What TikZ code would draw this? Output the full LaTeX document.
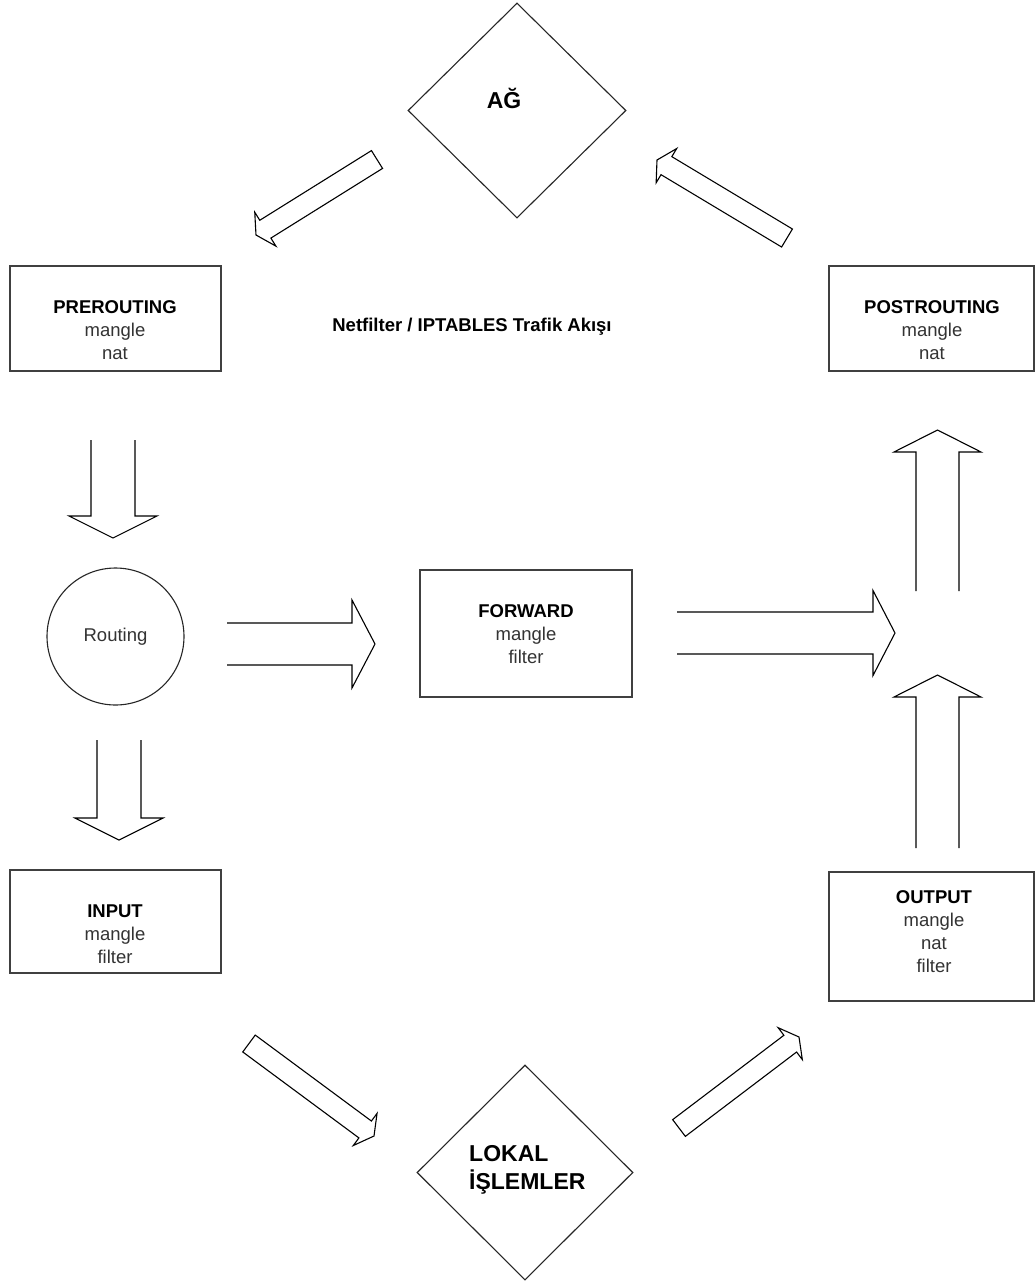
\documentclass[tikz,border=0pt]{standalone}
\usepackage{fontspec}
\setmainfont{Liberation Sans}
\usetikzlibrary{calc,shapes.geometric}

% Outline of a block arrow: tail, tip, shaft half-width, head half-width
% (the head base must be stored in coordinate hb first)
\newcommand\arrowoutline[4]{%
  ($(#1)!#3!-90:(#2)$) -- ($(hb)!#3!-90:(#2)$) -- ($(hb)!#4!-90:(#2)$) -- (#2)
  -- ($(hb)!#4!90:(#2)$) -- ($(hb)!#3!90:(#2)$) -- ($(#1)!#3!90:(#2)$)}
% block arrow left open at its tail: tail, tip, shaft half-width, head half-width, head length
\newcommand\openarrow[5]{%
  \coordinate (hb) at ($(#2)!#5!(#1)$);
  \path[barrow] \arrowoutline{#1}{#2}{#3}{#4};}
% thin block arrow with a closed tail
\newcommand\closedarrow[2]{%
  \coordinate (hb) at ($(#2)!11pt!(#1)$);
  \path[barrow] \arrowoutline{#1}{#2}{10.5pt}{20pt} -- cycle;}

\begin{document}
\begin{tikzpicture}[x=1pt,y=-1pt,
  box/.style={draw=black!75, line width=1.4pt, inner sep=0pt},
  diam/.style={diamond, draw=black!85, line width=1.1pt, inner sep=0pt, aspect=1},
  barrow/.style={draw=black, line width=1.1pt, line join=miter},
  lbl/.style={align=center, inner sep=0pt, text=black!80,
              font=\fontsize{18.5}{23}\selectfont},
  big/.style={inner sep=0pt, font=\fontsize{23}{28}\selectfont\bfseries},
]
\useasboundingbox (0,0) rectangle (1036,1283);
\fill[white] (0,0) rectangle (1036,1283);

% network and local processes
\node[diam, minimum width=218pt, minimum height=215pt] (ag) at (517,110.5) {};
\node[big, anchor=base] (agtxt) at (504,108) {AĞ};
\node[diam, minimum width=216pt, minimum height=215pt] (lokal) at (525,1172.5) {};
\node[big, anchor=west, align=left] (lokaltxt) at (469,1170) {LOKAL\\İŞLEMLER};

% chains
\node[box, minimum width=211pt, minimum height=105pt] (pre) at (115.5,318.5) {};
\node[lbl, anchor=north] (pretxt) at (115,300.4) {\textcolor{black}{\bfseries PREROUTING}\\mangle\\nat};
\node[box, minimum width=205pt, minimum height=105pt] (post) at (931.5,318.5) {};
\node[lbl, anchor=north] (posttxt) at (932,300.4) {\textcolor{black}{\bfseries POSTROUTING}\\mangle\\nat};
\node[box, minimum width=212pt, minimum height=127pt] (fwd) at (526,633.5) {};
\node[lbl, anchor=north] (fwdtxt) at (526,604.4) {\textcolor{black}{\bfseries FORWARD}\\mangle\\filter};
\node[box, minimum width=211pt, minimum height=103pt] (input) at (115.5,921.5) {};
\node[lbl, anchor=north] (inputtxt) at (115,904.4) {\textcolor{black}{\bfseries INPUT}\\mangle\\filter};
\node[box, minimum width=205pt, minimum height=129pt] (output) at (931.5,936.5) {};
\node[lbl, anchor=north] (outputtxt) at (934,890.4) {\textcolor{black}{\bfseries OUTPUT}\\mangle\\nat\\filter};

\node[circle, draw=black!85, line width=1.1pt, minimum size=137pt, inner sep=0pt,
      text=black!80, font=\fontsize{18.5}{23}\selectfont] (routing) at (115.5,636.5) {Routing};

\node[inner sep=0pt, anchor=base, font=\fontsize{18.5}{23}\selectfont\bfseries] (title)
  at (472,331.5) {Netfilter / IPTABLES Trafik Akışı};

% arrow end points
\coordinate (preA) at (113,440);     \coordinate (preB) at (113,538);
\coordinate (rinA) at (119,740);     \coordinate (rinB) at (119,840);
\coordinate (rfwA) at (227,644);     \coordinate (rfwB) at (375,644);
\coordinate (fwdA) at (677,633);     \coordinate (fwdB) at (895,633);
\coordinate (upA)  at (937.5,591);   \coordinate (upB)  at (937.5,430);
\coordinate (outA) at (937.5,848);   \coordinate (outB) at (937.5,675);
\coordinate (agA)  at (377,159.5);   \coordinate (agB)  at (256,235);
\coordinate (pstA) at (787,238);     \coordinate (pstB) at (657,160);
\coordinate (inA)  at (249,1043.5);  \coordinate (inB)  at (374,1136);
\coordinate (lokA) at (679,1128);    \coordinate (lokB) at (799,1037);

% wide block arrows
\openarrow{preA}{preB}{22pt}{44pt}{22pt}
\openarrow{rinA}{rinB}{22pt}{44pt}{22pt}
\openarrow{rfwA}{rfwB}{21pt}{44pt}{23pt}
\openarrow{fwdA}{fwdB}{21pt}{42.5pt}{22pt}
\openarrow{upA}{upB}{21.5pt}{43.5pt}{22pt}
\openarrow{outA}{outB}{21.5pt}{43.5pt}{22pt}

% thin diagonal arrows
\closedarrow{agA}{agB}
\closedarrow{pstA}{pstB}
\closedarrow{inA}{inB}
\closedarrow{lokA}{lokB}
\end{tikzpicture}
\end{document}
